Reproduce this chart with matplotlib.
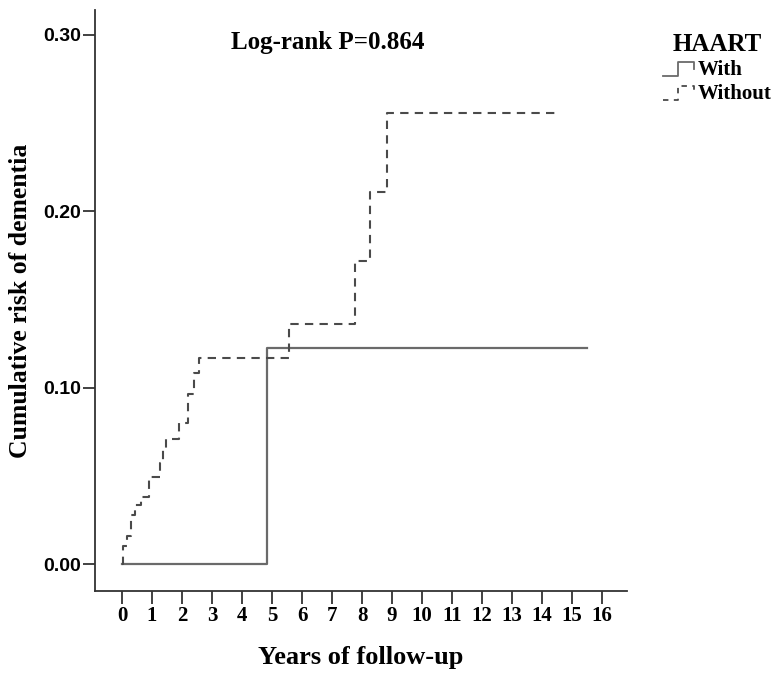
import matplotlib
matplotlib.use('Agg')
import matplotlib.pyplot as plt
from matplotlib.legend_handler import HandlerBase
from matplotlib.lines import Line2D

# Kaplan-Meier style cumulative risk
with_t = [0.0, 4.82, 15.5]
with_risk = [0.0, 0.1223, 0.1223]

without_t = [0.0, 0.02, 0.15, 0.30, 0.43, 0.62, 0.90, 1.25, 1.37, 1.48,
             1.90, 2.20, 2.40, 2.58, 5.57, 7.77, 8.27, 8.82, 14.6]
without_risk = [0.0, 0.010, 0.016, 0.028, 0.0335, 0.038, 0.0495, 0.057, 0.0647, 0.0706,
                0.080, 0.0964, 0.108, 0.1167, 0.136, 0.172, 0.211, 0.2556, 0.2556]

x_ticks = list(range(0, 17))
y_ticks = [0.0, 0.10, 0.20, 0.30]

SERIF = 'Liberation Serif'
SANS = 'Liberation Sans'
SOLID_COLOR = '#6a6a6a'
DASH_COLOR = '#4a4a4a'
AXIS_COLOR = '#333333'


class StepHandler(HandlerBase):
    """Draws the small step icon used in the legend."""
    def create_artists(self, legend, orig_handle, xdescent, ydescent,
                       width, height, fontsize, trans):
        xs = [0, 0.45, 0.45, 0.95, 0.95]
        ys = [-0.05, -0.05, 0.9, 0.9, 0.4]
        line = Line2D([x * width - xdescent for x in xs],
                      [y * height - ydescent for y in ys],
                      color=orig_handle.get_color(),
                      linestyle=orig_handle.get_linestyle(),
                      linewidth=1.3, transform=trans)
        if orig_handle.get_linestyle() != '-':
            line.set_dashes((3, 3))
        return [line]


fig = plt.figure(figsize=(7.84, 6.82), dpi=100)
ax = fig.add_axes([0.1208, 0.1334, 0.679, 0.852])

l1, = ax.step(with_t, with_risk, where='post', color=SOLID_COLOR, lw=1.6, label='With')
l2, = ax.step(without_t, without_risk, where='post', color=DASH_COLOR, lw=1.5,
              linestyle=(0, (4, 3)), label='Without')

ax.set_xlim(-0.91, 16.83)
ax.set_ylim(-0.0153, 0.314)

for s in ['top', 'right']:
    ax.spines[s].set_visible(False)
for s in ['left', 'bottom']:
    ax.spines[s].set_color(AXIS_COLOR)
    ax.spines[s].set_linewidth(1.3)

ax.set_xticks(x_ticks)
ax.set_xticklabels([str(v) for v in x_ticks], fontfamily=SERIF, fontweight='bold', fontsize=15)
ax.set_yticks(y_ticks)
ax.set_yticklabels(['%.2f' % v for v in y_ticks], fontfamily=SANS, fontweight='bold', fontsize=14)
ax.tick_params(axis='both', direction='out', length=9, width=1.3, color=AXIS_COLOR)
ax.tick_params(axis='x', pad=2)
ax.tick_params(axis='y', pad=1)

ax.set_xlabel('Years of follow-up', fontfamily=SERIF, fontweight='bold', fontsize=19, labelpad=14)
ax.set_ylabel('Cumulative risk of dementia', fontfamily=SERIF, fontweight='bold', fontsize=18.5, labelpad=8)

fig.text(0.418, 0.937, 'Log-rank P=0.864', fontfamily=SERIF, fontweight='bold',
         fontsize=18, ha='center', va='center')

leg = fig.legend(handles=[l1, l2], labels=['With', 'Without'],
                 handler_map={l1: StepHandler(), l2: StepHandler()},
                 loc='upper left', bbox_to_anchor=(0.846, 0.952),
                 frameon=False, title='HAART', handlelength=1.55, handletextpad=0.1,
                 labelspacing=0.2, borderaxespad=0, borderpad=0,
                 prop={'family': SERIF, 'weight': 'bold', 'size': 15},
                 title_fontproperties={'family': SERIF, 'weight': 'bold', 'size': 18})

fig.savefig('out.png', dpi=100)
